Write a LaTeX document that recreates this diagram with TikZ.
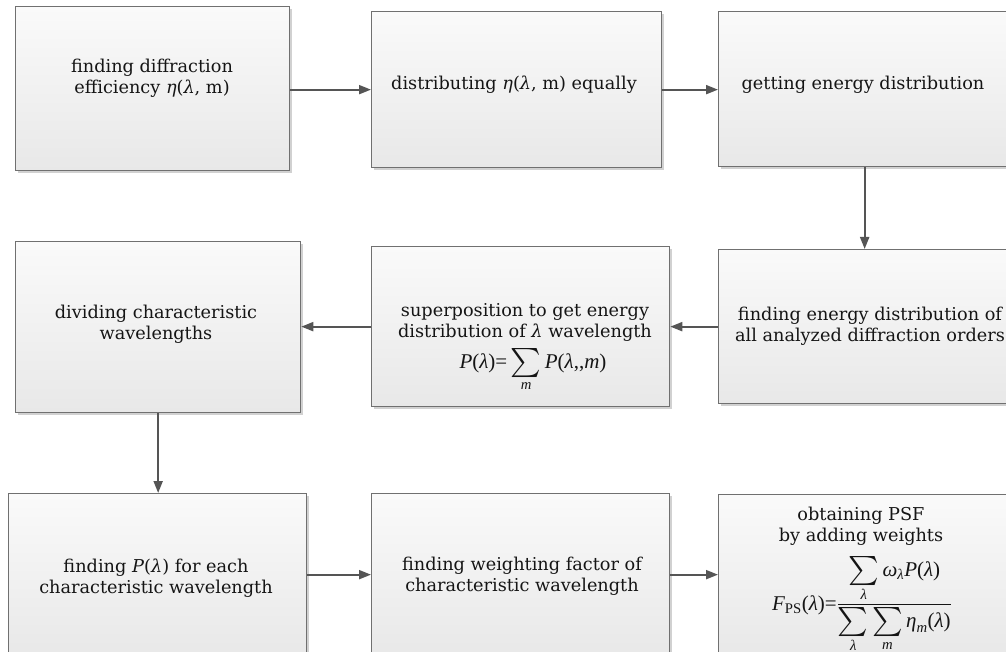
\documentclass[tikz,border=0pt]{standalone}
\usepackage{amsmath}
\usepackage{fontspec}
\setmainfont{DejaVu Serif}
\newfontfamily\fm{Liberation Serif}
\newcommand{\gi}[1]{\textit{#1}}
\newcommand{\myfi}[1]{\text{\fm\itshape #1}}
\newcommand{\myfr}[1]{\text{\fm #1}}
\newcommand{\bigsum}{\mathop{\vcenter{\hbox{\scalebox{1.4}{$\textstyle\sum$}}}}\limits}
\usetikzlibrary{arrows.meta,shadows}
\definecolor{edge}{HTML}{707070}
\definecolor{arrowc}{HTML}{555555}
\definecolor{topc}{HTML}{FAFAFA}
\definecolor{botc}{HTML}{E8E8E8}
\definecolor{txt}{HTML}{151515}
\begin{document}
\begin{tikzpicture}[x=1pt,y=-1pt,
  box/.style={draw=edge, line width=1.3pt, top color=topc, bottom color=botc,
    anchor=north west, inner sep=0pt,
    drop shadow={shadow xshift=2.5pt, shadow yshift=-2.5pt, fill=black!18, opacity=1}},
  lbl/.style={align=center, inner sep=0pt, text=txt, font=\fontsize{17.7}{21}\selectfont},
  frm/.style={inner sep=0pt, text=txt, font=\fontsize{21}{24}\selectfont},
  arr/.style={draw=arrowc, line width=2pt, -{Triangle[length=12pt,width=9pt]}}]
\useasboundingbox (0,0) rectangle (1006,652);
% row 1
\node[box, minimum width=274pt, minimum height=164pt] (b1) at (15,6) {};
\node[box, minimum width=290pt, minimum height=156pt] (b2) at (371,11) {};
\node[box, minimum width=292pt, minimum height=155pt] (b3) at (718,11) {};
% row 2
\node[box, minimum width=285pt, minimum height=171pt] (b4) at (15,241) {};
\node[box, minimum width=298pt, minimum height=160pt] (b5) at (371,246) {};
\node[box, minimum width=292pt, minimum height=154pt] (b6) at (718,249) {};
% row 3
\node[box, minimum width=298pt, minimum height=162pt] (b7) at (8,493) {};
\node[box, minimum width=298pt, minimum height=162pt] (b8) at (371,493) {};
\node[box, minimum width=292pt, minimum height=161pt] (b9) at (718,494) {};
% texts
\node[lbl] (t1) at (152,78) {finding diffraction\\efficiency \gi{η}(\gi{λ}, m)};
\node[lbl] (t2) at (514,85) {distributing \gi{η}(\gi{λ}, m) equally};
\node[lbl] (t3) at (863,85) {getting energy distribution};
\node[lbl] (t4) at (156,324) {dividing characteristic\\wavelengths};
\node[lbl] (t5) at (525,322) {superposition to get energy\\distribution of \gi{λ} wavelength};
\node[frm, anchor=base] (f5) at (533,368) {$\myfi{P}\myfr{(}\myfi{λ}\myfr{)=}\bigsum_{\myfi{m}}\myfi{P}\myfr{(}\myfi{λ}\myfr{,,}\myfi{m}\myfr{)}$};
\node[lbl] (t6) at (870,326) {finding energy distribution of\\all analyzed diffraction orders};
\node[lbl] (t7) at (156,578) {finding \gi{P}(\gi{λ}) for each\\characteristic wavelength};
\node[lbl] (t8) at (522,576) {finding weighting factor of\\characteristic wavelength};
\node[lbl] (t9) at (861,526) {obtaining PSF\\by adding weights};
\node[frm, anchor=base] (f9) at (862,610) {$\myfi{F}_{\myfr{PS}}\myfr{(}\myfi{λ}\myfr{)=}\dfrac{\bigsum_{\myfi{λ}}\myfi{ω}_{\myfi{λ}}\myfi{P}\myfr{(}\myfi{λ}\myfr{)}}{\bigsum_{\myfi{λ}}\bigsum_{\myfi{m}}\myfi{η}_{\myfi{m}}\myfr{(}\myfi{λ}\myfr{)}}$};
% connectors
\draw[arr] (b1.east |- b2.west) -- (b2.west);
\draw[arr] (b2.east) -- (b3.west |- b2.east);
\draw[arr] (b3.south) -- (b6.north -| b3.south);
\draw[arr] (b6.west) -- (b5.east |- b6.west);
\draw[arr] (b5.west) -- (b4.east |- b5.west);
\draw[arr] (b4.south) -- (b7.north -| b4.south);
\draw[arr] (b7.east) -- (b8.west |- b7.east);
\draw[arr] (b8.east) -- (b9.west |- b8.east);
\end{tikzpicture}
\end{document}
